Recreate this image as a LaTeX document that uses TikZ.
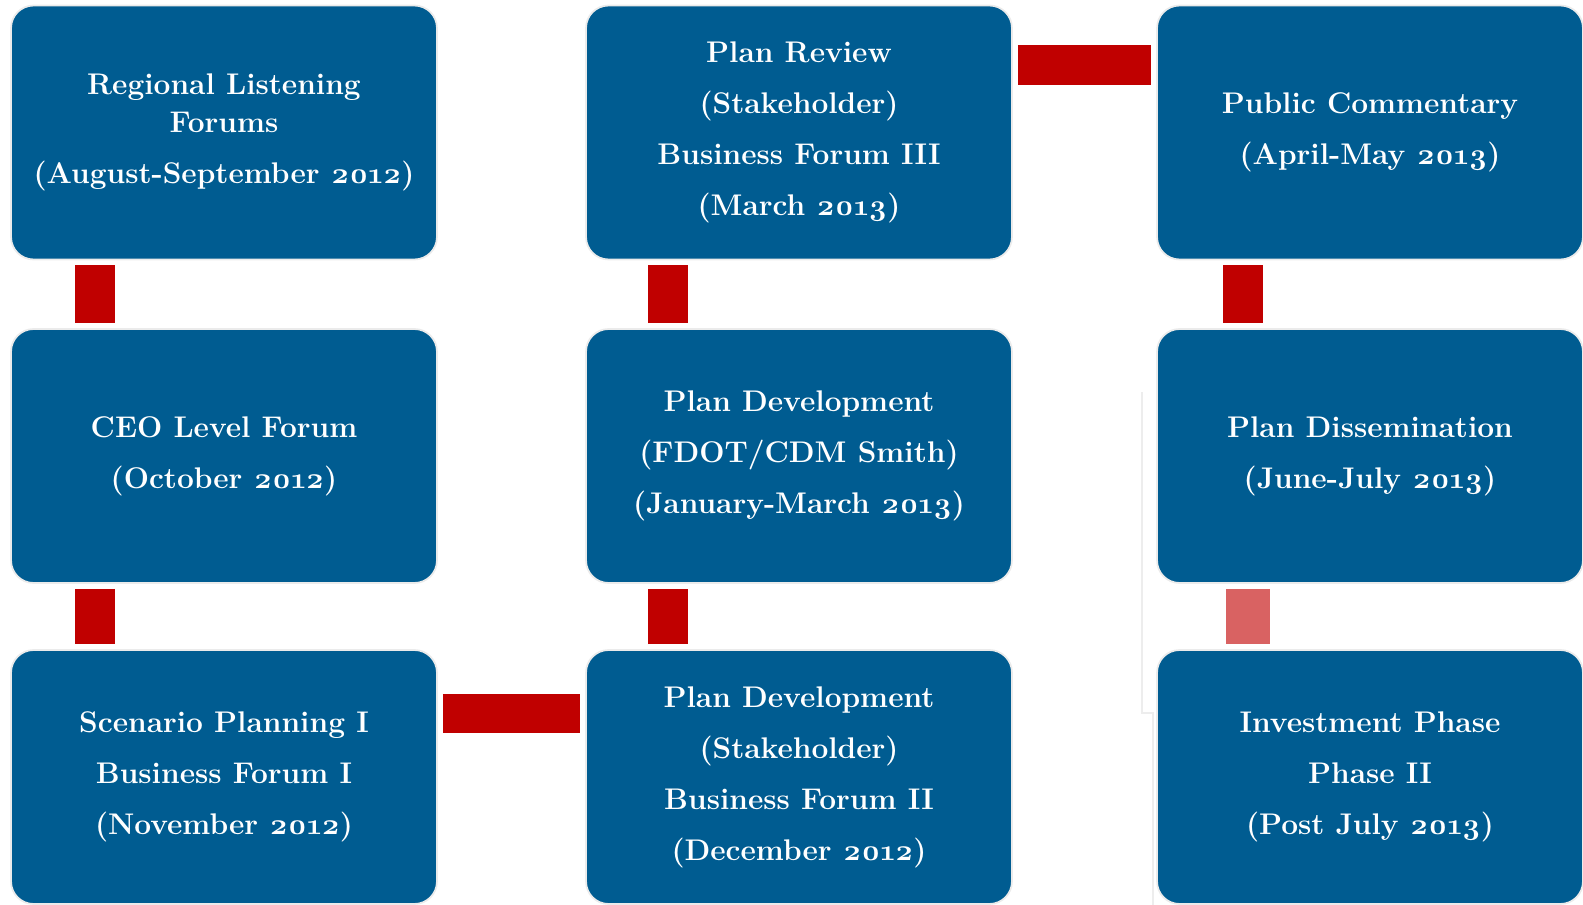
\documentclass[tikz,border=0pt]{standalone}
\usepackage{fontspec}
\setmainfont{Latin Modern Roman}[Numbers=OldStyle]

\definecolor{stageblue}{RGB}{0,92,145}
\definecolor{linkred}{RGB}{192,0,0}
\definecolor{linkpink}{RGB}{217,98,98}

\begin{document}
\begin{tikzpicture}[x=0.02cm,y=-0.02cm,
  stage/.style={draw=black!8,line width=1pt,fill=stageblue,rounded corners=0.45cm,
    minimum width=8.52cm,minimum height=5.08cm,align=center,text=white,
    font=\bfseries\fontsize{17}{29}\selectfont},
  link/.style={draw=linkred,line width=0.8cm,shorten <=0.1cm,shorten >=0.1cm}]
\useasboundingbox (0,0) rectangle (1583,905);
% faint edge left of the last column
\draw[black!7,line width=.6pt] (1142,392)--(1142,713)--(1153,713)--(1153,905);
% stages
\node[stage] (listen) at (224,132.5) {Regional Listening\\[-7pt]Forums\\(August-September 2012)};
\node[stage] (ceo) at (224,456) {CEO Level Forum\\(October 2012)};
\node[stage] (scen) at (224,777) {Scenario Planning I\\Business Forum I\\(November 2012)};
\node[stage] (devb) at (799,777) {Plan Development\\(Stakeholder)\\Business Forum II\\(December 2012)};
\node[stage] (deva) at (799,456) {Plan Development\\(FDOT/CDM Smith)\\(January-March 2013)};
\node[stage] (review) at (799,132.5) {Plan Review\\(Stakeholder)\\Business Forum III\\(March 2013)};
\node[stage] (public) at (1370,132.5) {Public Commentary\\(April-May 2013)};
\node[stage] (dissem) at (1370,456) {Plan Dissemination\\(June-July 2013)};
\node[stage] (invest) at (1370,777) {Investment Phase\\Phase II\\(Post July 2013)};
% links
\draw[link] ([xshift=1.7cm]listen.south west) -- ([xshift=1.7cm]ceo.north west);
\draw[link] ([xshift=1.7cm]ceo.south west) -- ([xshift=1.7cm]scen.north west);
\draw[link,line width=0.78cm] ([yshift=-1.29cm]scen.north east) -- ([yshift=-1.29cm]devb.north west);
\draw[link] ([xshift=1.66cm]devb.north west) -- ([xshift=1.66cm]deva.south west);
\draw[link] ([xshift=1.66cm]deva.north west) -- ([xshift=1.66cm]review.south west);
\draw[link] ([yshift=-1.2cm]review.north east) -- ([yshift=-1.2cm]public.north west);
\draw[link] ([xshift=1.74cm]public.south west) -- ([xshift=1.74cm]dissem.north west);
\draw[link,draw=linkpink,line width=0.88cm] ([xshift=1.84cm]dissem.south west) -- ([xshift=1.84cm]invest.north west);
\end{tikzpicture}
\end{document}
